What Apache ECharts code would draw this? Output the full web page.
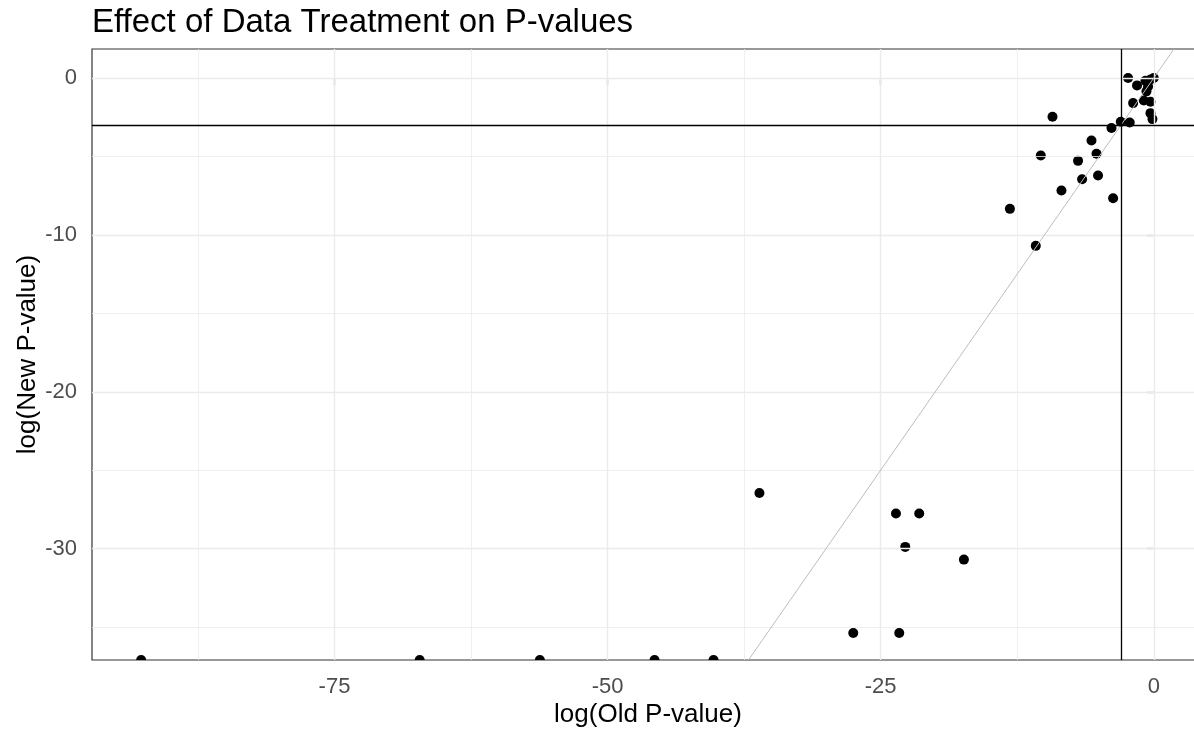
<!DOCTYPE html>
<html>
<head>
<meta charset="utf-8">
<script src="https://cdn.jsdelivr.net/npm/echarts@6/dist/echarts.min.js"></script>
<style>
  html, body { margin: 0; padding: 0; background: #fff; overflow: hidden; }
  #main { width: 1194px; height: 732px; }
</style>
</head>
<body>
<div id="main"></div>
<script>
// log(Old P-value) / log(New P-value)
const oldP = [-2.35, 0, -0.3, -0.76, -1.53, -0.52, -0.67, -1.89, -0.91, -0.3, -0.3, -0.12,
  -9.27, -3.02, -2.2, -3.87, -5.7, -10.34, -5.24, -6.93, -5.1, -6.56, -8.45, -3.72,
  -13.17, -10.8, -36.1, -23.6, -21.47, -22.75, -17.38, -27.51, -23.3];
const newP = [0, 0, -0.1, -0.17, -0.47, -0.54, -0.85, -1.6, -1.43, -1.51, -2.24, -2.62,
  -2.47, -2.79, -2.83, -3.19, -3.98, -4.94, -4.83, -5.28, -6.21, -6.45, -7.17, -7.66,
  -8.34, -10.7, -26.45, -27.76, -27.76, -29.89, -30.7, -35.38, -35.38];
// new p-value of 0 -> log is -Inf, drawn on the lower panel edge
const oldPInf = [-92.7, -67.2, -56.2, -45.7, -40.3];

const cutoff = Math.log(0.05);
const xRange = [-97.2, 4.6];
const yRange = [-37.1, 1.85];
const xTicks = [-75, -50, -25, 0];
const xMinor = [-87.5, -62.5, -37.5, -12.5];
const yTicks = [0, -10, -20, -30];
const yMinor = [-5, -15, -25, -35];

const chart = echarts.init(document.getElementById('main'));

function gridLines(axis, vals, w) {
  return vals.map(v => ({ [axis]: v, lineStyle: { color: '#ebebeb', width: w, type: 'solid' } }));
}

chart.setOption({
  animation: false,
  title: {
    text: 'Effect of Data Treatment on P-values',
    left: 87, top: 1,
    textStyle: { fontFamily: 'Liberation Sans', fontSize: 33, fontWeight: 'normal', color: '#000' }
  },
  grid: {
    left: 92, top: 49, width: 1112, height: 611,
    outerBoundsMode: 'none', containLabel: false,
    show: true, borderColor: '#333', borderWidth: 1.2, backgroundColor: 'transparent'
  },
  xAxis: {
    type: 'value', min: xRange[0], max: xRange[1],
    name: 'log(Old P-value)', nameLocation: 'middle', nameGap: 42, nameMoveOverlap: false,
    nameTextStyle: { fontFamily: 'Liberation Sans', fontSize: 26, color: '#000' },
    axisLine: { show: false },
    axisTick: { show: true, length: 7, customValues: xTicks, lineStyle: { color: '#333', width: 1.2 } },
    axisLabel: { customValues: xTicks, margin: 16, fontFamily: 'Liberation Sans', fontSize: 22, color: '#4d4d4d' },
    splitLine: { show: false }
  },
  yAxis: {
    type: 'value', min: yRange[0], max: yRange[1],
    name: 'log(New P-value)', nameLocation: 'middle', nameGap: 51, nameRotate: 90, nameMoveOverlap: false,
    nameTextStyle: { fontFamily: 'Liberation Sans', fontSize: 26, color: '#000' },
    axisLine: { show: false },
    axisTick: { show: true, length: 7, customValues: yTicks, lineStyle: { color: '#333', width: 1.2 } },
    axisLabel: { customValues: yTicks, margin: 15, fontFamily: 'Liberation Sans', fontSize: 22, color: '#4d4d4d' },
    splitLine: { show: false }
  },
  series: [
    {
      // background grid, drawn from tick arrays
      type: 'line', data: [], silent: true, z: 0,
      markLine: {
        silent: true, symbol: 'none', label: { show: false }, animation: false,
        emphasis: { disabled: true },
        data: [].concat(
          gridLines('xAxis', xMinor, 0.8), gridLines('yAxis', yMinor, 0.8),
          gridLines('xAxis', xTicks, 1.4), gridLines('yAxis', yTicks, 1.4)
        )
      }
    },
    {
      type: 'scatter', z: 3,
      symbolSize: 10,
      itemStyle: { color: '#000', opacity: 1 },
      emphasis: { disabled: true },
      data: oldP.map((x, i) => [x, newP[i]])
    },
    {
      type: 'scatter', z: 3,
      symbol: 'path://M0,10 A10,10 0 0 1 20,10 Z',
      symbolKeepAspect: false,
      symbolSize: [10, 5], symbolOffset: [0, -2.5],
      itemStyle: { color: '#000', opacity: 1 },
      emphasis: { disabled: true },
      data: oldPInf.map(x => [x, yRange[0]])
    },
    {
      // reference lines: y = x and the 0.05 cut-offs
      type: 'line', data: [], z: 4,
      markLine: {
        silent: true, symbol: 'none', label: { show: false }, animation: false,
        emphasis: { disabled: true },
        data: [
          [{ coord: [yRange[0], yRange[0]], lineStyle: { color: '#bdbdbd', width: 1, type: 'solid' } },
           { coord: [yRange[1], yRange[1]] }],
          { yAxis: cutoff, lineStyle: { color: '#000', width: 1.3, type: 'solid' } },
          { xAxis: cutoff, lineStyle: { color: '#000', width: 1.3, type: 'solid' } }
        ]
      }
    }
  ]
});
</script>
</body>
</html>
